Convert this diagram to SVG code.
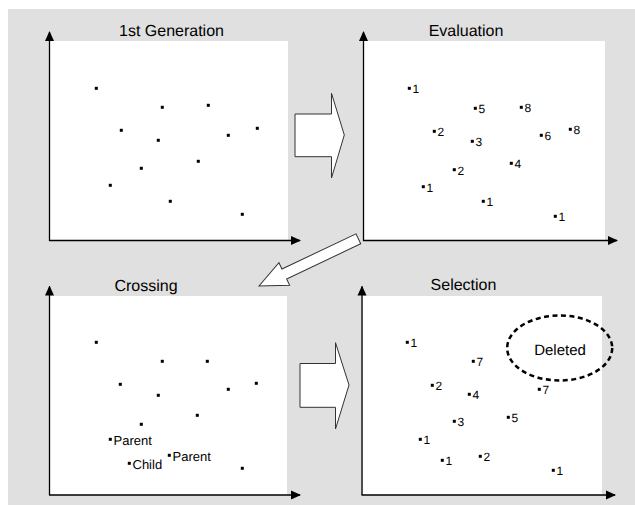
<svg xmlns="http://www.w3.org/2000/svg" width="635" height="505" viewBox="0 0 635 505">
<style>
.bg{fill:#e0e0e0}
.panel{fill:#ffffff}
.axis{stroke:#000;stroke-width:1.3;fill:none}
.dot{fill:#000}
text{text-rendering:geometricPrecision}
.title{font-family:"Liberation Sans",Arial,sans-serif;font-size:16px;fill:#000;text-anchor:middle}
.lbl{font-family:"Liberation Sans",Arial,sans-serif;font-size:12px;fill:#000}
.wlbl{font-family:"Liberation Sans",Arial,sans-serif;font-size:13px;fill:#000}
.big{fill:#fff;stroke:#333;stroke-width:1}
.del{fill:none;stroke:#000;stroke-width:2.5;stroke-dasharray:5 3.5}
.lay{opacity:0.999}
</style>
<defs>
<marker id="ah" viewBox="0 0 10 10" refX="9" refY="5" markerWidth="10" markerHeight="10" markerUnits="userSpaceOnUse" orient="auto">
<path d="M0,0.5 L10,5 L0,9.5 Z" fill="#000"/>
</marker>
<rect id="d" x="-1.5" y="-1.5" width="3" height="3" class="dot"/>
</defs>
<rect class="bg" x="8" y="9" width="627" height="496"/>

<g id="panel-1st-generation">
<rect class="panel" x="50" y="41" width="238" height="200"/>
<text class="title" x="171.5" y="36">1st Generation</text>
<use href="#d" x="96.3" y="88.3"/><use href="#d" x="162.3" y="107.3"/><use href="#d" x="208.3" y="105.3"/>
<use href="#d" x="121.3" y="130.3"/><use href="#d" x="158.3" y="140.3"/><use href="#d" x="228.3" y="135.3"/>
<use href="#d" x="257.3" y="128.3"/><use href="#d" x="198.3" y="161.3"/><use href="#d" x="141.3" y="168.3"/>
<use href="#d" x="110.3" y="185.3"/><use href="#d" x="170.3" y="201.3"/><use href="#d" x="242.3" y="214.3"/>
</g>

<g id="panel-evaluation">
<rect class="panel" x="364" y="41" width="241" height="200"/>
<text class="title" x="466" y="36">Evaluation</text>
<g class="lay">
<use href="#d" x="409.3" y="88.3"/><text class="lbl" x="412.5" y="93">1</text>
<use href="#d" x="475.3" y="108.3"/><text class="lbl" x="478.5" y="113">5</text>
<use href="#d" x="521.3" y="107.3"/><text class="lbl" x="524.5" y="112">8</text>
<use href="#d" x="434.3" y="131.3"/><text class="lbl" x="437.5" y="136">2</text>
<use href="#d" x="472.3" y="141.3"/><text class="lbl" x="475.5" y="146">3</text>
<use href="#d" x="541.3" y="135.3"/><text class="lbl" x="544.5" y="140">6</text>
<use href="#d" x="570.3" y="129.3"/><text class="lbl" x="573.5" y="134">8</text>
<use href="#d" x="511.3" y="163.3"/><text class="lbl" x="514.5" y="168">4</text>
<use href="#d" x="454.3" y="169.7"/><text class="lbl" x="457.5" y="174.5">2</text>
<use href="#d" x="423.3" y="186.7"/><text class="lbl" x="426.5" y="191.5">1</text>
<use href="#d" x="483.3" y="201.3"/><text class="lbl" x="486.5" y="206">1</text>
<use href="#d" x="555.3" y="216.3"/><text class="lbl" x="558.5" y="221">1</text>
</g>
</g>

<g id="panel-crossing">
<rect class="panel" x="50" y="296" width="237" height="199"/>
<text class="title" x="146" y="291">Crossing</text>
<use href="#d" x="96.3" y="342.3"/><use href="#d" x="162.3" y="361.3"/><use href="#d" x="207.3" y="361.3"/>
<use href="#d" x="120.3" y="384.3"/><use href="#d" x="158.3" y="395.3"/><use href="#d" x="228.3" y="389.3"/>
<use href="#d" x="256.3" y="383.3"/><use href="#d" x="197.3" y="415.3"/><use href="#d" x="141.3" y="424.3"/>
<g class="lay">
<use href="#d" x="110.3" y="439.3"/><text class="wlbl" x="113.5" y="444.5">Parent</text>
<use href="#d" x="169.3" y="455.3"/><text class="wlbl" x="172.5" y="460.5">Parent</text>
<use href="#d" x="129.3" y="463.3"/><text class="wlbl" x="132.5" y="468.5">Child</text>
</g>
<use href="#d" x="242.3" y="468.3"/>
</g>

<g id="panel-selection">
<rect class="panel" x="363" y="296" width="239" height="199"/>
<text class="title" x="463.5" y="290">Selection</text>
<g class="lay">
<use href="#d" x="407.3" y="342.3"/><text class="lbl" x="410.5" y="347">1</text>
<use href="#d" x="473.3" y="361.3"/><text class="lbl" x="476.5" y="366">7</text>
<use href="#d" x="432.3" y="385.3"/><text class="lbl" x="435.5" y="390">2</text>
<use href="#d" x="469.3" y="394.3"/><text class="lbl" x="472.5" y="399">4</text>
<use href="#d" x="454.3" y="421.3"/><text class="lbl" x="457.5" y="426">3</text>
<use href="#d" x="508.3" y="417.3"/><text class="lbl" x="511.5" y="422">5</text>
<use href="#d" x="420.3" y="439.3"/><text class="lbl" x="423.5" y="444">1</text>
<use href="#d" x="442.3" y="460.3"/><text class="lbl" x="445.5" y="465">1</text>
<use href="#d" x="480.3" y="456.3"/><text class="lbl" x="483.5" y="461">2</text>
<use href="#d" x="553.3" y="470.3"/><text class="lbl" x="556.5" y="475">1</text>
<use href="#d" x="539.3" y="389.3"/><text class="lbl" x="542.5" y="394">7</text>
</g>
</g>

<g id="deleted">
<ellipse class="del" cx="559.7" cy="348" rx="52.5" ry="32.5"/>
<text class="title" x="560" y="355" style="font-size:15px">Deleted</text>
</g>

<g id="connectors">
<line class="axis" x1="49.5" y1="241" x2="49.5" y2="32" marker-end="url(#ah)"/>
<line class="axis" x1="49" y1="240.5" x2="300" y2="240.5" marker-end="url(#ah)"/>
<line class="axis" x1="363.5" y1="241" x2="363.5" y2="32" marker-end="url(#ah)"/>
<line class="axis" x1="363" y1="240.5" x2="617" y2="240.5" marker-end="url(#ah)"/>
<line class="axis" x1="49.5" y1="495" x2="49.5" y2="286.5" marker-end="url(#ah)"/>
<line class="axis" x1="49" y1="495" x2="300" y2="495" marker-end="url(#ah)"/>
<line class="axis" x1="362" y1="495" x2="362" y2="286.5" marker-end="url(#ah)"/>
<line class="axis" x1="361.5" y1="495" x2="615" y2="495" marker-end="url(#ah)"/>
<polygon class="big" points="295,114 331.5,114 331.5,93.3 344.3,135 331.5,178 331.5,156.7 295,156.7"/>
<polygon class="big" points="300,363.5 335.5,363.5 335.5,342.7 349,385 335.5,429 335.5,407.3 300,407.3"/>
<polygon class="big" transform="translate(259,286) rotate(-25.4)" points="0,0 28,-12.5 28,-5.5 110,-5.5 110,5.5 28,5.5 28,12.5"/>
</g>
</svg>
